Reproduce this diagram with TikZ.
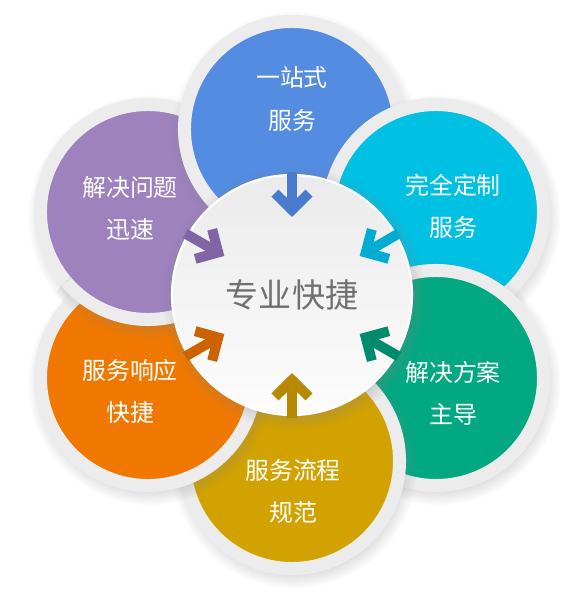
\documentclass[tikz,border=0pt]{standalone}
\usepackage{fontspec}
\newfontfamily\cjk{Noto Sans CJK SC}
\usetikzlibrary{shadows,arrows.meta,calc}
\definecolor{ringgray}{RGB}{236,236,236}
\definecolor{cblue}{RGB}{83,140,224}
\definecolor{ccyan}{RGB}{0,192,228}
\definecolor{cgreen}{RGB}{2,168,130}
\definecolor{cgold}{RGB}{210,162,0}
\definecolor{corange}{RGB}{240,120,0}
\definecolor{cpurple}{RGB}{157,130,190}
\definecolor{ablue}{RGB}{72,122,205}
\definecolor{acyan}{RGB}{0,172,210}
\definecolor{agreen}{RGB}{0,140,108}
\definecolor{agold}{RGB}{182,138,0}
\definecolor{aorange}{RGB}{205,98,0}
\definecolor{apurple}{RGB}{128,100,165}
\definecolor{hubtext}{RGB}{112,112,112}
\begin{document}
\begin{tikzpicture}[x=0.025cm,y=-0.025cm,
  bubble/.style={circle,minimum size=5.375cm,fill=#1,draw=ringgray,line width=0.325cm,
    circular drop shadow={shadow scale=1.14,shadow yshift=-3pt,opacity=.3}},
  hub/.style={circle,minimum size=6cm,top color=gray!16,bottom color=gray!2,draw=white,line width=1.5pt,
    text=hubtext,font=\cjk\fontsize{23.5}{28}\selectfont,
    circular drop shadow={shadow scale=1.1,shadow yshift=-2pt,opacity=.35}},
  lbl/.style={text=white,align=center,font=\cjk\fontsize{17}{30}\selectfont},
  arr/.style={draw=#1,line width=0.25cm,-{Straight Barb[sharp,length=0.42cm,width=0.85cm]}}]

  \fill[white] (0,0) rectangle (566,612);

  \node[bubble=cpurple] (s6) at (148,212) {};
  \node[bubble=cblue]   (s1) at (292,129) {};
  \node[bubble=ccyan]   (s2) at (436,212) {};
  \node[bubble=cgreen]  (s3) at (436,378) {};
  \node[bubble=cgold]   (s4) at (292,461) {};
  \node[bubble=corange] (s5) at (148,378) {};
  \begin{scope}
    \clip (s5.center) circle[radius=126];
    \node[bubble=cpurple] (s6x) at (148,212) {};
  \end{scope}

  \node[lbl] (t1) at (292,99)  {一站式\\服务};
  \node[lbl] (t2) at (453,206) {完全定制\\服务};
  \node[lbl] (t3) at (453,393) {解决方案\\主导};
  \node[lbl] (t4) at (293,491) {服务流程\\规范};
  \node[lbl] (t5) at (130,391) {服务响应\\快捷};
  \node[lbl] (t6) at (130,208) {解决问题\\迅速};

  \node[hub] (c) at (292,295) {专业快捷};

  \draw[arr=ablue]   ($(c)!.74!(s1)$) -- ($(c)!.47!(s1)$);
  \draw[arr=acyan]   ($(c)!.74!(s2)$) -- ($(c)!.47!(s2)$);
  \draw[arr=agreen]  ($(c)!.74!(s3)$) -- ($(c)!.47!(s3)$);
  \draw[arr=agold]   ($(c)!.74!(s4)$) -- ($(c)!.47!(s4)$);
  \draw[arr=aorange] ($(c)!.74!(s5)$) -- ($(c)!.47!(s5)$);
  \draw[arr=apurple] ($(c)!.74!(s6)$) -- ($(c)!.47!(s6)$);
\end{tikzpicture}
\end{document}
